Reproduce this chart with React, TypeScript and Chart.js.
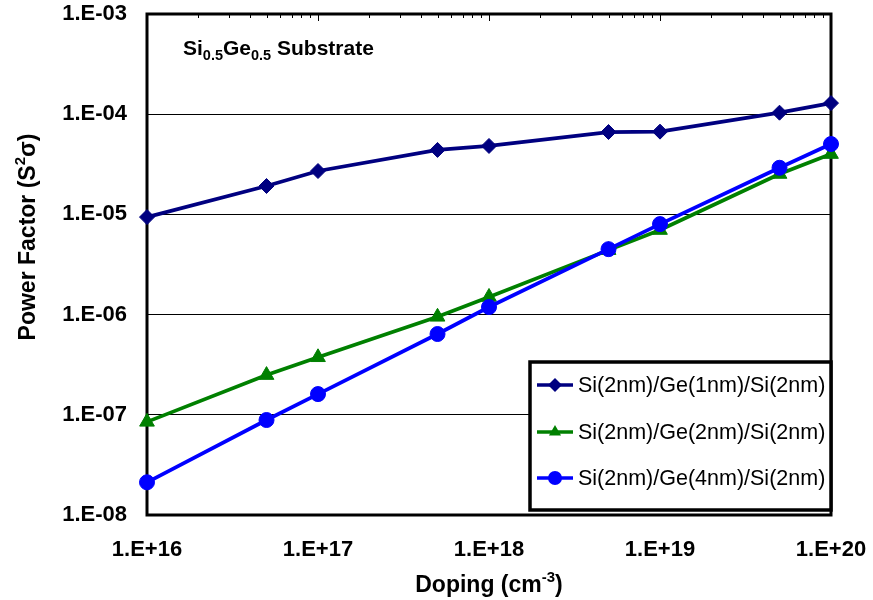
import React, { useEffect, useRef } from 'react';
import { Chart, registerables } from 'chart.js';

Chart.register(...registerables);

const doping = [1e16, 5e16, 1e17, 5e17, 1e18, 5e18, 1e19, 5e19, 1e20];
const pfGe1 = [9.4e-6, 1.92e-5, 2.71e-5, 4.4e-5, 4.82e-5, 6.64e-5, 6.7e-5, 1.035e-4, 1.29e-4];
const pfGe2 = [8.5e-8, 2.49e-7, 3.75e-7, 9.5e-7, 1.5e-6, 4.4e-6, 6.98e-6, 2.53e-5, 4.0e-5];
const pfGe4 = [2.12e-8, 8.87e-8, 1.61e-7, 6.4e-7, 1.19e-6, 4.5e-6, 8.0e-6, 2.92e-5, 5.04e-5];
const seriesLabels = ['Si(2nm)/Ge(1nm)/Si(2nm)', 'Si(2nm)/Ge(2nm)/Si(2nm)', 'Si(2nm)/Ge(4nm)/Si(2nm)'];
const seriesColors = ['#000080', '#008000', '#0000FF'];
const seriesMarkers = ['rectRot', 'triangle', 'circle'];
const xTicks = [1e16, 1e17, 1e18, 1e19, 1e20];
const yTicks = [1e-8, 1e-7, 1e-6, 1e-5, 1e-4, 1e-3];

const FONT = '"Liberation Sans", Arial, Helvetica, sans-serif';

function sciLabel(v: number): string {
  const e = Math.round(Math.log10(v));
  const s = e >= 0 ? '+' : '-';
  const a = Math.abs(e);
  return `1.E${s}${a < 10 ? '0' + a : a}`;
}

function drawMarker(ctx: CanvasRenderingContext2D, style: string, x: number, y: number, r: number, color: string) {
  ctx.save();
  ctx.fillStyle = color;
  ctx.beginPath();
  if (style === 'rectRot') {
    ctx.moveTo(x, y - r);
    ctx.lineTo(x + r, y);
    ctx.lineTo(x, y + r);
    ctx.lineTo(x - r, y);
  } else if (style === 'triangle') {
    const h = r * 1.5;
    const w = r * Math.sqrt(3) / 2;
    ctx.moveTo(x, y - r);
    ctx.lineTo(x + w, y + h - r);
    ctx.lineTo(x - w, y + h - r);
  } else {
    ctx.arc(x, y, r, 0, Math.PI * 2);
  }
  ctx.closePath();
  ctx.fill();
  ctx.restore();
}

function drawPieces(ctx: CanvasRenderingContext2D, pieces: [string, number, number][], x: number, y: number, weight: string, align: 'left' | 'center') {
  let total = 0;
  const widths: number[] = [];
  for (const [t, s] of pieces) {
    ctx.font = `${weight} ${s}px ${FONT}`;
    const w = ctx.measureText(t).width;
    widths.push(w);
    total += w;
  }
  let cx = align === 'center' ? x - total / 2 : x;
  ctx.textAlign = 'left';
  ctx.textBaseline = 'alphabetic';
  pieces.forEach(([t, s, dy], i) => {
    ctx.font = `${weight} ${s}px ${FONT}`;
    ctx.fillText(t, cx, y + dy);
    cx += widths[i];
  });
}

const framePlugin = {
  id: 'frame',
  beforeDatasetsDraw(chart: any) {
    const { ctx, chartArea: a, scales } = chart;
    const xs = scales.x;
    ctx.save();
    ctx.strokeStyle = '#000';
    ctx.lineWidth = 1;
    for (let e = 16; e < 20; e++) {
      for (let m = 2; m <= 10; m++) {
        const v = m * Math.pow(10, e);
        const px = Math.round(xs.getPixelForValue(v)) + 0.5;
        const len = m === 10 ? 7 : 4;
        ctx.beginPath();
        ctx.moveTo(px, a.top);
        ctx.lineTo(px, a.top + len);
        ctx.stroke();
      }
    }
    ctx.lineWidth = 3;
    ctx.strokeRect(a.left, a.top, a.right - a.left, a.bottom - a.top);
    ctx.restore();
  },
  afterDatasetsDraw(chart: any) {
    const { ctx, chartArea: a } = chart;
    ctx.save();
    const bl = a.right - 301;
    const bt = a.bottom - 153;
    const bw = 301;
    const bh = 148;
    ctx.fillStyle = '#fff';
    ctx.fillRect(bl, bt, bw, bh);
    ctx.lineWidth = 3.5;
    ctx.strokeStyle = '#000';
    ctx.strokeRect(bl, bt, bw, bh);
    const rowY = [23, 70, 116];
    seriesLabels.forEach((lab, i) => {
      const y = bt + rowY[i];
      ctx.strokeStyle = seriesColors[i];
      ctx.lineWidth = 3.5;
      ctx.beginPath();
      ctx.moveTo(bl + 7, y);
      ctx.lineTo(bl + 43, y);
      ctx.stroke();
      drawMarker(ctx, seriesMarkers[i], bl + 25, y, 7, seriesColors[i]);
      ctx.fillStyle = '#000';
      ctx.font = `normal 21.5px ${FONT}`;
      ctx.textAlign = 'left';
      ctx.textBaseline = 'middle';
      ctx.fillText(lab, bl + 48, y + 1);
    });
    ctx.fillStyle = '#000';
    drawPieces(ctx, [['Si', 21, 0], ['0.5', 14.5, 5], ['Ge', 21, 0], ['0.5', 14.5, 5], [' Substrate', 21, 0]], a.left + 36, a.top + 41, 'bold', 'left');
    drawPieces(ctx, [['Doping (cm', 23, 0], ['-3', 15, -10], [')', 23, 0]], (a.left + a.right) / 2, 592, 'bold', 'center');
    ctx.translate(35, 237);
    ctx.rotate(-Math.PI / 2);
    drawPieces(ctx, [['Power Factor (S', 23, 0], ['2', 15, -10], ['\u03C3)', 23, 0]], 0, 0, 'bold', 'center');
    ctx.restore();
  },
};

export default function App() {
  const ref = useRef<HTMLCanvasElement | null>(null);
  useEffect(() => {
    if (!ref.current) return;
    const series = [pfGe1, pfGe2, pfGe4];
    const orders = [2, 1, 0];
    const radii = [7.5, 8.5, 7.5];
    const chart = new Chart(ref.current, {
      type: 'line',
      data: {
        datasets: series.map((vals, i) => ({
          label: seriesLabels[i],
          data: doping.map((x, j) => ({ x, y: vals[j] })),
          borderColor: seriesColors[i],
          backgroundColor: seriesColors[i],
          borderWidth: 3.75,
          pointStyle: seriesMarkers[i] as any,
          pointRadius: radii[i],
          pointBorderWidth: 1,
          pointBackgroundColor: seriesColors[i],
          pointBorderColor: seriesColors[i],
          tension: 0,
          clip: false as any,
          order: orders[i],
        })),
      },
      options: {
        responsive: false,
        animation: false,
        devicePixelRatio: 1,
        layout: { padding: { left: 0, top: 14, right: 42, bottom: 0 } },
        plugins: {
          legend: { display: false },
          tooltip: { enabled: false },
          title: { display: false },
        },
        scales: {
          x: {
            type: 'logarithmic',
            min: 1e16,
            max: 1e20,
            afterBuildTicks: (s: any) => {
              s.ticks = xTicks.map((v) => ({ value: v }));
            },
            afterFit: (s: any) => {
              s.height = 85;
              s.paddingLeft = 0;
              s.paddingRight = 0;
            },
            ticks: {
              autoSkip: false,
              maxRotation: 0,
              padding: 22,
              color: '#000',
              font: { family: FONT, size: 22, weight: 'bold' },
              callback: (v: any) => sciLabel(Number(v)),
            },
            grid: { display: false, drawTicks: false },
            border: { display: false },
          },
          y: {
            type: 'logarithmic',
            min: 1e-8,
            max: 1e-3,
            afterBuildTicks: (s: any) => {
              s.ticks = yTicks.map((v) => ({ value: v }));
            },
            afterFit: (s: any) => {
              s.width = 147;
              s.paddingTop = 0;
              s.paddingBottom = 0;
            },
            ticks: {
              autoSkip: false,
              padding: 20,
              color: '#000',
              font: { family: FONT, size: 22, weight: 'bold' },
              callback: (v: any) => sciLabel(Number(v)),
            },
            grid: { display: true, color: '#000', lineWidth: 1, drawTicks: false },
            border: { display: false },
          },
        },
      } as any,
      plugins: [framePlugin],
    });
    return () => chart.destroy();
  }, []);
  return (
    <div style={{ position: 'absolute', left: 0, top: 0, width: 873, height: 600, background: '#fff' }}>
      <canvas ref={ref} width={873} height={600} style={{ display: 'block' }} />
    </div>
  );
}
